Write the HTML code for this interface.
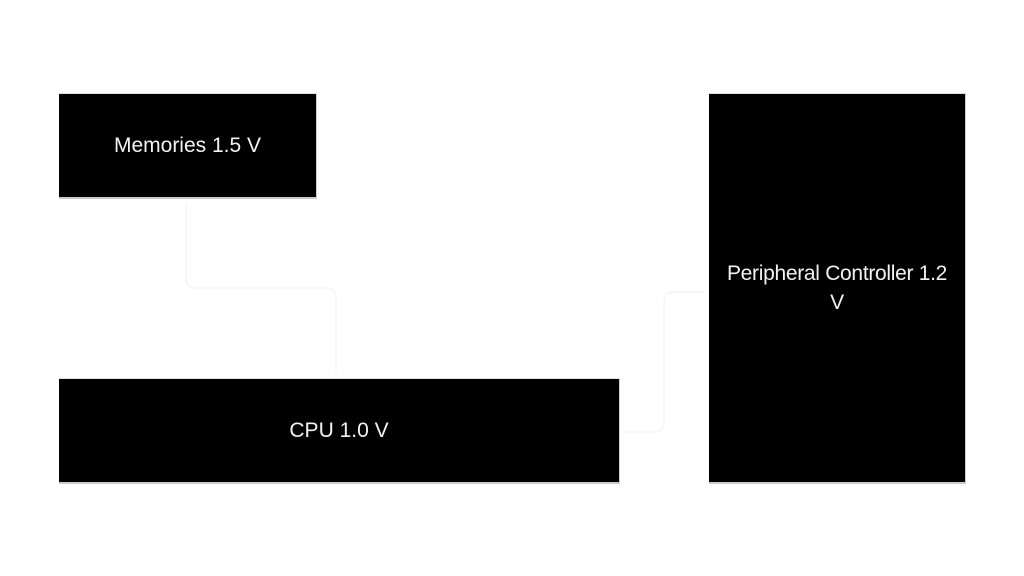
<!DOCTYPE html>
<html><head><meta charset="utf-8"><style>
html,body{margin:0;padding:0;width:1024px;height:576px;background:#fff;overflow:hidden}
.b{position:absolute;background:#000;border-right:1px solid #ccc;border-bottom:2px solid #ccc;border-top:1px solid #e0e0e0;color:#f2f2f2;font-family:"Liberation Sans",sans-serif;font-size:21px;display:flex;align-items:center;justify-content:center;text-align:center;line-height:29px;box-sizing:border-box;white-space:nowrap}
svg{position:absolute;left:0;top:0}
</style></head><body>
<svg width="1024" height="576"><g fill="none" stroke="#f0f0f0" stroke-width="1">
<path d="M186 202 V278 Q186 288 196 288 H326 Q336 288 336 298 V372"/>
<path d="M622 432 H654 Q664 432 664 422 V302 Q664 292 674 292 H704"/>
</g></svg>
<div class="b" style="left:59px;top:93px;width:258px;height:106px">Memories 1.5 V</div>
<div class="b" style="left:59px;top:378px;width:561px;height:106px">CPU 1.0 V</div>
<div class="b" style="left:709px;top:93px;width:257px;height:391px;letter-spacing:-0.3px">Peripheral Controller 1.2<br>V</div>
</body></html>
